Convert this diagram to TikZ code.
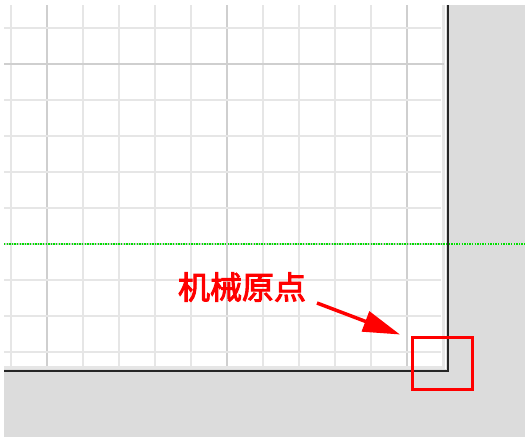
\documentclass[tikz,border=0pt]{standalone}
\usepackage{fontspec}
\newfontfamily\cjk[FakeBold=3]{Noto Sans CJK SC}
\usetikzlibrary{arrows.meta}
\definecolor{bggrey}{HTML}{DCDCDC}
\definecolor{minorgrid}{HTML}{E6E6E6}
\definecolor{majorgrid}{HTML}{CFCFCF}
\definecolor{guidegreen}{HTML}{00E000}
\definecolor{markred}{HTML}{FF0000}
\tikzset{
  minorline/.style={draw=minorgrid, line width=1.6pt},
  majorline/.style={draw=majorgrid, line width=1.6pt},
  frameline/.style={draw=black!85, line width=2pt},
  guideline/.style={draw=guidegreen, line width=1.3pt, dash pattern=on 1.3pt off 1.3pt},
  marklabel/.style={text=markred, font=\cjk\fontsize{32}{32}\selectfont, inner sep=0pt},
  markbox/.style={draw=markred, line width=3pt, minimum width=60pt, minimum height=52pt, inner sep=0pt},
  markarrow/.style={draw=markred, line width=3.5pt, -{Triangle[length=37pt,width=21pt]}}
}
\begin{document}
\begin{tikzpicture}[x=1pt,y=-1pt]
\useasboundingbox (0,0) rectangle (525,437);
\fill[white] (0,0) rectangle (525,437);
\fill[bggrey] (4,5) rectangle (525,437);
\fill[white] (4,5) rectangle (446,369);
% light inner border
\draw[draw=minorgrid, line width=3pt] (443.5,5) -- (443.5,367.5) -- (4,367.5);
% grid
\foreach \x in {11,83,119,155,191,263,299,335,371}
  \draw[minorline] (\x,5) -- (\x,366);
\foreach \x in {47,227,407}
  \draw[majorline] (\x,5) -- (\x,366);
\foreach \y in {28,100,136,172,208,280,316,352}
  \draw[minorline] (4,\y) -- (441,\y);
\foreach \y in {64,244}
  \draw[majorline] (4,\y) -- (444,\y);
% frame
\draw[frameline] (447.5,5) -- (447.5,370.5) -- (4,370.5);
% green guide
\draw[guideline] (4,244) -- (525,244);
% label, arrow, origin box
\node[marklabel] (label) at (242,287) {机械原点};
\node[markbox] (origin) at (442.5,363.5) {};
\coordinate (arrowstart) at (317,303);
\coordinate (arrowtip) at (400,334.5);
\draw[markarrow] (arrowstart) -- (arrowtip);
\end{tikzpicture}
\end{document}
